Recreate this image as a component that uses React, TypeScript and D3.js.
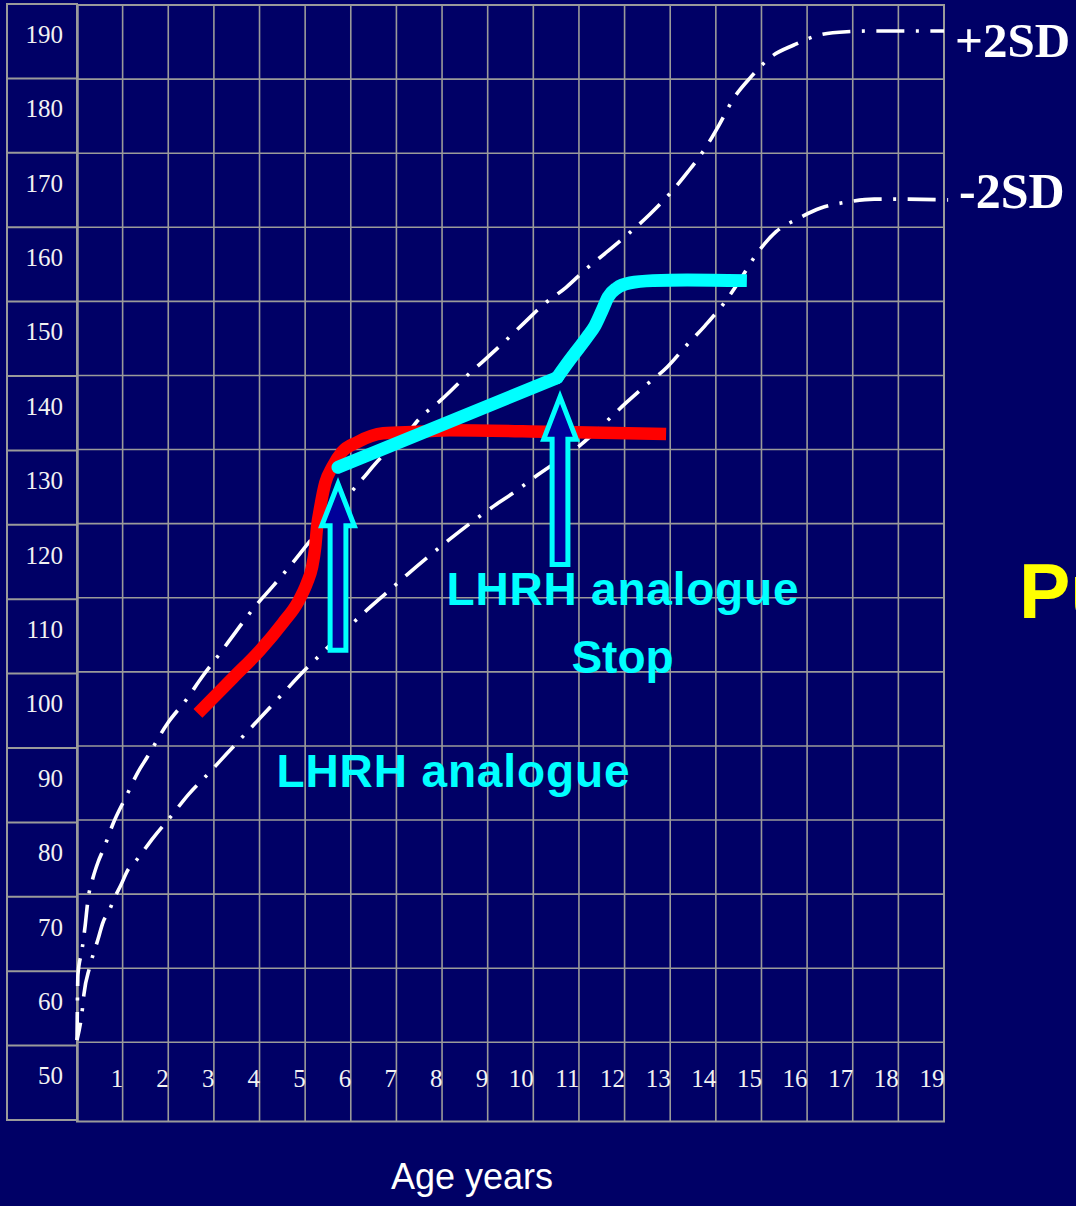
import React from 'react';
import * as d3 from 'd3';

// ---------- data (age in years, height in cm) ----------
const xTickLabels = ['1','2','3','4','5','6','7','8','9','10','11','12','13','14','15','16','17','18','19'];
const yTickLabels = [50, 60, 70, 80, 90, 100, 110, 120, 130, 140, 150, 160, 170, 180, 190];

const plus2SD: [number, number][] = [
  [0, 55.3], [0.01, 60.7], [0.02, 64.1], [0.11, 67.5], [0.18, 70.8], [0.24, 74.2], [0.35, 77.2],
  [0.46, 79.3], [0.59, 81.2], [0.79, 84.5], [1.07, 88.1], [1.34, 91.5], [1.53, 93.4], [1.99, 98.1],
  [2.39, 101.2], [2.74, 104.3], [3.11, 107.3], [3.48, 110.4], [3.86, 113.5], [4.27, 116.4],
  [4.67, 119.3], [5.06, 122.3], [6.25, 131.0], [6.66, 133.9], [7.17, 136.7], [7.54, 139.4],
  [7.98, 141.7], [8.44, 144.4], [8.88, 146.8], [9.34, 149.4], [9.8, 152.1], [10.23, 154.6],
  [10.72, 156.9], [11.18, 159.5], [11.64, 161.8], [12.1, 164.2], [12.56, 166.8], [13.0, 169.6],
  [13.39, 172.5], [13.76, 175.6], [14.07, 178.8], [14.38, 182.3], [14.77, 185.3], [15.21, 188.0],
  [15.71, 189.6], [16.3, 191.0], [16.87, 191.4], [17.47, 191.5], [19.0, 191.5],
];

const minus2SD: [number, number][] = [
  [0, 55.3], [0.12, 59.6], [0.15, 61.4], [0.28, 65.2], [0.46, 68.9], [0.57, 71.2], [0.7, 72.7],
  [0.83, 74.6], [0.96, 76.2], [1.12, 78.3], [1.29, 79.5], [1.67, 82.6], [2.06, 85.5], [2.45, 88.5],
  [2.87, 91.2], [3.29, 94.0], [3.73, 96.9], [4.14, 99.6], [4.56, 102.4], [4.97, 105.1], [5.33, 107.3],
  [6.31, 113.1], [6.77, 115.6], [7.23, 118.1], [7.69, 120.5], [8.17, 122.9], [8.63, 125.1],
  [9.14, 127.4], [9.62, 129.4], [10.1, 131.6], [11.05, 135.7], [11.57, 138.6], [12.03, 141.3],
  [12.47, 143.7], [12.93, 146.1], [13.35, 149.0], [13.76, 151.7], [14.16, 154.6], [14.53, 157.9],
  [14.86, 161.1], [15.32, 164.4], [15.78, 166.1], [16.3, 167.6], [16.87, 168.4], [17.47, 168.8],
  [18.06, 168.8], [19.09, 168.7],
];

const untreated: [number, number][] = [
  [2.65, 99.4], [3.42, 104.2], [4.01, 107.9], [4.51, 111.6], [4.84, 114.4], [5.04, 117.0],
  [5.15, 119.1], [5.22, 121.8], [5.26, 124.5], [5.33, 127.2], [5.44, 130.5], [5.59, 132.6],
  [5.81, 134.7], [6.14, 136.0], [6.71, 137.2], [7.45, 137.4], [8.17, 137.6], [10.37, 137.4],
  [12.91, 137.1],
];

// treatment phase (nearly straight) then post-treatment growth spurt
const treatedPhase: [number, number][] = [
  [5.72, 132.6], [10.52, 144.7],
];
const afterStop: [number, number][] = [
  [10.52, 144.7], [10.8, 147.1], [11.18, 150.2], [11.35, 151.7], [11.51, 153.8],
  [11.64, 155.6], [11.83, 156.8], [12.12, 157.5], [12.62, 157.8], [13.37, 157.9], [14.68, 157.8],
];

// arrows: [age, tip, head base, bottom]
const arrowAges = [5.72, 10.585];
const arrowTips = [130.35, 142.1];
const arrowHeadBases = [124.7, 136.4];
const arrowBottoms = [107.9, 119.5];

const BG = '#000066';
const GRID = '#9a9a9a';
const SERIF = '"Liberation Serif", "Times New Roman", serif';
const SANS = '"Liberation Sans", Arial, sans-serif';

export default function App() {
  const W = 1076, H = 1206;
  const x = d3.scaleLinear().domain([0, 19]).range([77, 944]);
  const y = d3.scaleLinear().domain([55, 195]).range([1042.3, 5]);
  const yl = d3.scaleLinear().domain([45, 195]).range([1120, 4]);
  const gridBottom = 1121.5;

  const smooth = d3.line<[number, number]>().x(d => x(d[0])).y(d => y(d[1])).curve(d3.curveMonotoneX);
  const straight = d3.line<[number, number]>().x(d => x(d[0])).y(d => y(d[1]));

  const hVals = d3.range(65, 195, 10);
  const vAges = d3.range(1, 19);
  const labelRowVals = d3.range(55, 195, 10);

  const arrows = arrowAges.map((a, i) => {
    const cx = x(a);
    const tip = y(arrowTips[i]);
    const hb = y(arrowHeadBases[i]);
    const bot = y(arrowBottoms[i]);
    const hw = 16.3, sw = 7.9;
    return [
      [cx, tip], [cx + hw, hb], [cx + sw, hb], [cx + sw, bot],
      [cx - sw, bot], [cx - sw, hb], [cx - hw, hb],
    ].map(p => p.join(',')).join(' ');
  });

  return (
    <div style={{ position: 'absolute', left: 0, top: 0 }}>
      <svg width={W} height={H} style={{ display: 'block' }}>
        <rect x={0} y={0} width={W} height={H} fill={BG} />

        {/* label column */}
        <rect x={7} y={4} width={70} height={1116} fill="none" stroke={GRID} strokeWidth={2} />
        {labelRowVals.map(v => (
          <line key={'lr' + v} x1={7} x2={77} y1={yl(v)} y2={yl(v)} stroke={GRID} strokeWidth={2} />
        ))}
        {yTickLabels.map(v => (
          <text key={'yl' + v} x={63} y={yl(v) + 1.5} textAnchor="end" fontFamily={SERIF}
            fontSize={25} fill="#f2f2f2">{v}</text>
        ))}

        {/* main grid */}
        {hVals.map(v => (
          <line key={'h' + v} x1={x(0)} x2={x(19)} y1={y(v)} y2={y(v)} stroke={GRID} strokeWidth={1.6} />
        ))}
        <line x1={x(0)} x2={x(19)} y1={y(55)} y2={y(55)} stroke={GRID} strokeWidth={1.6} />
        {vAges.map(a => (
          <line key={'v' + a} x1={x(a)} x2={x(a)} y1={y(195)} y2={gridBottom} stroke={GRID} strokeWidth={1.6} />
        ))}
        <rect x={x(0)} y={y(195)} width={x(19) - x(0)} height={gridBottom - y(195)} fill="none"
          stroke={GRID} strokeWidth={2} />
        <line x1={x(0) + 1} x2={x(0) + 1} y1={y(195)} y2={gridBottom} stroke={GRID} strokeWidth={1.5} />

        {xTickLabels.map((t, i) => (
          <text key={'xl' + t} x={x(i + 1) + 0.5} y={1087} textAnchor="end" fontFamily={SERIF}
            fontSize={25} fill="#f2f2f2">{t}</text>
        ))}

        {/* reference SD curves */}
        <path d={smooth(plus2SD) || ''} fill="none" stroke="#ffffff" strokeWidth={3.6}
          strokeDasharray="28 11.5 3 11.5" />
        <path d={smooth(minus2SD) || ''} fill="none" stroke="#ffffff" strokeWidth={3.6}
          strokeDasharray="28 11.5 3 11.5" strokeDashoffset={10} />

        {/* patient curves */}
        <path d={smooth(untreated) || ''} fill="none" stroke="#ff0000" strokeWidth={12.5} />
        <path d={straight(treatedPhase) || ''} fill="none" stroke="#00ffff" strokeWidth={13} strokeLinecap="round" />
        <path d={smooth(afterStop) || ''} fill="none" stroke="#00ffff" strokeWidth={13} />
        <circle cx={x(afterStop[0][0])} cy={y(afterStop[0][1])} r={6.5} fill="#00ffff" />

        {/* arrows */}
        {arrows.map((pts, i) => (
          <polygon key={'ar' + i} points={pts} fill="#000099" stroke="#00ffff" strokeWidth={5} />
        ))}

        {/* annotations */}
        <text x={622.5} y={605} textAnchor="middle" fontFamily={SANS} fontWeight="bold" fontSize={46}
          fill="#00ffff" textLength={352} lengthAdjust="spacing">LHRH analogue</text>
        <text x={622.5} y={673} textAnchor="middle" fontFamily={SANS} fontWeight="bold" fontSize={46}
          fill="#00ffff">Stop</text>
        <text x={453} y={787} textAnchor="middle" fontFamily={SANS} fontWeight="bold" fontSize={46}
          fill="#00ffff" textLength={353} lengthAdjust="spacing">LHRH analogue</text>

        <text x={955} y={57} fontFamily={SERIF} fontWeight="bold" fontSize={49} fill="#ffffff">+2SD</text>
        <text x={959} y={208} fontFamily={SERIF} fontWeight="bold" fontSize={50} fill="#ffffff">-2SD</text>

        <text x={1019} y={618} fontFamily={SANS} fontWeight="bold" fontSize={77} fill="#ffff00">Puberty</text>

        <text x={472} y={1189} textAnchor="middle" fontFamily={SANS} fontSize={36} fill="#ffffff">Age years</text>
      </svg>
    </div>
  );
}
